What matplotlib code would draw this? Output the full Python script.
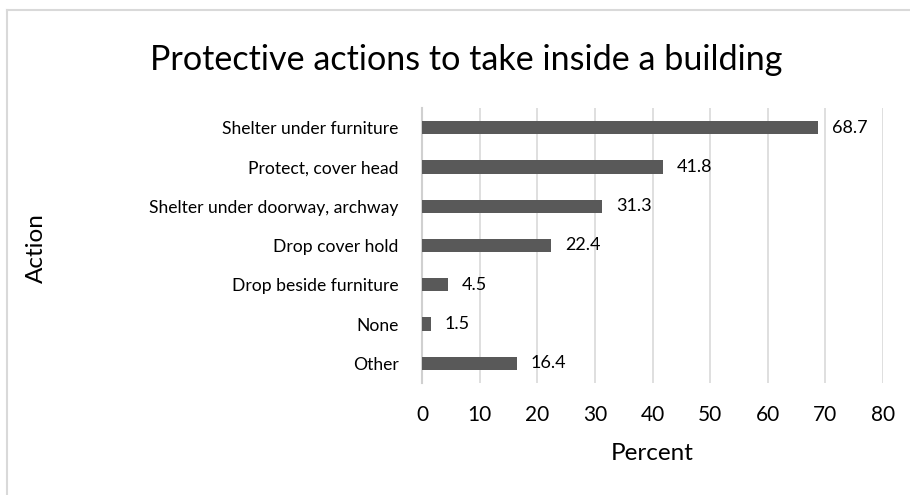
import matplotlib
matplotlib.use("Agg")
import matplotlib.pyplot as plt
from matplotlib.lines import Line2D

plt.rcParams["font.family"] = ["Lato", "DejaVu Sans"]

actions = ["Shelter under furniture", "Protect, cover head", "Shelter under doorway, archway",
           "Drop cover hold", "Drop beside furniture", "None", "Other"]
percent = [68.7, 41.8, 31.3, 22.4, 4.5, 1.5, 16.4]
xticks = [0, 10, 20, 30, 40, 50, 60, 70, 80]

W, H = 910, 495
fig = plt.figure(figsize=(W / 100, H / 100), dpi=100)
ax = fig.add_axes([422 / W, 1 - 383 / H, 461 / W, 275 / H])

pos = list(range(len(actions)))[::-1]
ax.barh(pos, percent, height=0.34, color="#595959", zorder=3)
for y, v in zip(pos, percent):
    ax.annotate(f"{v}", (v, y), xytext=(10, 0), textcoords="offset points",
                va="center", ha="left", fontsize=13, color="#000000")

ax.set_xlim(0, 80)
ax.set_ylim(-0.5, len(actions) - 0.5)
ax.set_xticks(xticks)
ax.set_yticks(pos)
ax.set_yticklabels(actions)
ax.tick_params(axis="both", length=0, colors="#000000")
ax.tick_params(axis="x", pad=16, labelsize=15)
ax.tick_params(axis="y", pad=17, labelsize=12.6)
ax.grid(axis="x", color="#d9d9d9", linewidth=1.2, zorder=0)
for s in ["top", "right", "bottom"]:
    ax.spines[s].set_visible(False)
ax.spines["left"].set_color("#d0d0d0")
ax.spines["left"].set_linewidth(1.5)

fig.text(652 / W, 1 - 454 / H, "Percent", fontsize=17.5, ha="center", va="center")
fig.text(36 / W, 1 - 248 / H, "Action", rotation=90, fontsize=17.5,
         ha="center", va="center")
fig.text(466 / W, 1 - 60 / H, "Protective actions to take inside a building",
         fontsize=24.6, ha="center", va="center")

# outer chart frame (left and top edges)
fig.add_artist(Line2D([7 / W, 7 / W], [0, 1 - 10 / H], transform=fig.transFigure,
                      color="#d9d9d9", linewidth=1.5))
fig.add_artist(Line2D([7 / W, 1], [1 - 10 / H, 1 - 10 / H], transform=fig.transFigure,
                      color="#d9d9d9", linewidth=1.5))

fig.savefig("out.png", dpi=100)
